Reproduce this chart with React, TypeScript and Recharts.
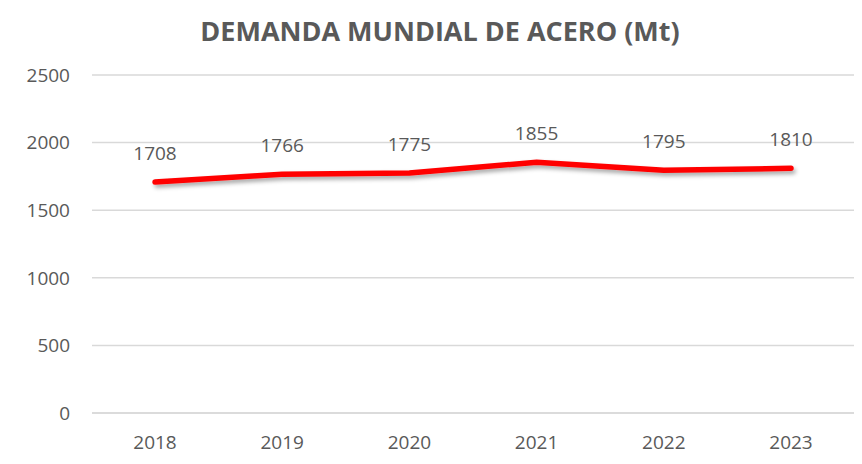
import { CartesianGrid, LabelList, Line, LineChart, XAxis, YAxis } from "recharts";

const years = ["2018", "2019", "2020", "2021", "2022", "2023"];
const demand = [1708, 1766, 1775, 1855, 1795, 1810];
const yTicks = [0, 500, 1000, 1500, 2000, 2500];

const data = years.map((year, i) => ({ year, demand: demand[i] }));

const FONT = "'Open Sans', sans-serif";
const TEXT = "#595959";

export default function App() {
  return (
    <div style={{ position: "absolute", left: 0, top: 0, width: 862, height: 464, background: "#fff", fontFamily: FONT }}>
      <svg width={0} height={0} style={{ position: "absolute" }}>
        <defs>
          <filter id="lineShadow" x="-10%" y="-50%" width="120%" height="200%">
            <feDropShadow dx={2} dy={3} stdDeviation={2} floodColor="#000" floodOpacity={0.35} />
          </filter>
        </defs>
      </svg>
      <div
        style={{
          position: "absolute",
          left: 0,
          top: 12,
          width: 880,
          textAlign: "center",
          fontSize: 27,
          fontWeight: 700,
          color: TEXT,
        }}
      >
        DEMANDA MUNDIAL DE ACERO (Mt)
      </div>
      <LineChart
        width={862}
        height={464}
        data={data}
        margin={{ top: 75, right: 8, bottom: 0, left: 0 }}
      >
        <CartesianGrid vertical={false} stroke="#d9d9d9" strokeWidth={1.5} />
        <XAxis
          dataKey="year"
          padding={{ left: 63, right: 63 }}
          axisLine={{ stroke: "#d9d9d9", strokeWidth: 1.5 }}
          tickLine={false}
          tick={{ fill: TEXT, fontSize: 19, fontFamily: FONT }}
          tickMargin={17}
          height={51}
        />
        <YAxis
          domain={[0, 2500]}
          ticks={yTicks}
          axisLine={false}
          tickLine={false}
          tick={{ fill: TEXT, fontSize: 19, fontFamily: FONT }}
          tickMargin={16}
          width={92}
        />
        <Line
          type="linear"
          dataKey="demand"
          stroke="#ff0000"
          strokeWidth={5.5}
          strokeLinecap="round"
          strokeLinejoin="round"
          dot={false}
          activeDot={false}
          filter="url(#lineShadow)"
          isAnimationActive={false}
        >
          <LabelList dataKey="demand" position="top" offset={22} fill={TEXT} fontSize={19} fontFamily={FONT} />
        </Line>
      </LineChart>
    </div>
  );
}
